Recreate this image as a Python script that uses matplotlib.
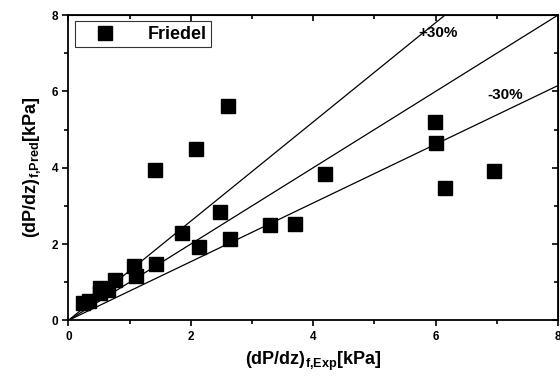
import numpy as np
from matplotlib import pyplot as plt
from matplotlib.ticker import MultipleLocator

plt.rcParams['font.family'] = ['Liberation Sans', 'DejaVu Sans']
plt.rcParams['font.weight'] = 'bold'
plt.rcParams['mathtext.fontset'] = 'custom'
plt.rcParams['mathtext.bf'] = 'Liberation Sans:bold'
plt.rcParams['mathtext.rm'] = 'Liberation Sans:bold'

# Friedel correlation: experimental vs predicted frictional pressure gradient
exp_kpa = [0.24, 0.33, 0.51, 0.52, 0.65, 0.76, 1.08, 1.10, 1.44, 1.41,
           2.09, 2.61, 1.86, 2.13, 2.47, 2.64, 3.30, 3.71, 4.20,
           5.99, 6.00, 6.15, 6.95]
pred_kpa = [0.45, 0.50, 0.71, 0.85, 0.80, 1.05, 1.42, 1.17, 1.47, 3.94,
            4.48, 5.62, 2.29, 1.92, 2.85, 2.13, 2.50, 2.53, 3.84,
            5.20, 4.66, 3.47, 3.91]

line_x = [0, 8]
band = 0.3

fig = plt.figure(figsize=(5.6, 3.81), dpi=100)
ax = fig.add_axes([0.122, 0.159, 0.8745, 0.8015])

ax.plot(line_x, line_x, color='black', lw=0.9)
ax.plot(line_x, [v * (1 + band) for v in line_x], color='black', lw=0.9)
ax.plot(line_x, [v / (1 + band) for v in line_x], color='black', lw=0.9)

ax.plot(exp_kpa, pred_kpa, 's', color='black', ms=9.5, label='Friedel',
        clip_on=False, zorder=3)

ax.text(5.72, 7.53, '+30%', fontsize=11, fontweight='bold', va='center')
ax.text(6.85, 5.90, '-30%', fontsize=11, fontweight='bold', va='center')

ax.set_xlim(0, 8)
ax.set_ylim(0, 8)
ax.xaxis.set_major_locator(MultipleLocator(2))
ax.xaxis.set_minor_locator(MultipleLocator(1))
ax.yaxis.set_major_locator(MultipleLocator(2))
ax.yaxis.set_minor_locator(MultipleLocator(1))
ax.tick_params(which='both', direction='out', labelsize=8.5, width=1.2)
ax.tick_params(which='major', length=4)
ax.tick_params(which='minor', length=3)

# mirrored ticks pointing inward on top and right
top = ax.secondary_xaxis('top')
top.xaxis.set_major_locator(MultipleLocator(2))
top.xaxis.set_minor_locator(MultipleLocator(1))
top.tick_params(which='both', direction='in', labeltop=False, width=1.2)
top.tick_params(which='major', length=4)
top.tick_params(which='minor', length=3)
right = ax.secondary_yaxis('right')
right.yaxis.set_major_locator(MultipleLocator(2))
right.yaxis.set_minor_locator(MultipleLocator(1))
right.tick_params(which='both', direction='in', labelright=False, width=1.2)
right.tick_params(which='major', length=4)
right.tick_params(which='minor', length=3)

for s in ax.spines.values():
    s.set_linewidth(1.3)

ax.set_xlabel(r'$\mathbf{(dP/dz)_{f{,}Exp}[kPa]}$', fontsize=13, labelpad=5)
ax.set_ylabel(r'$\mathbf{(dP/dz)_{f{,}Pred}[kPa]}$', fontsize=13, labelpad=6)

leg = ax.legend(loc='upper left', fontsize=13, frameon=True, fancybox=False,
                edgecolor='black', borderpad=0.25, handlelength=2.9,
                handletextpad=0.9, markerscale=1.0, borderaxespad=0.35)
leg.get_frame().set_linewidth(0.8)
for t in leg.get_texts():
    t.set_fontweight('bold')

fig.savefig('out.png', dpi=100)
